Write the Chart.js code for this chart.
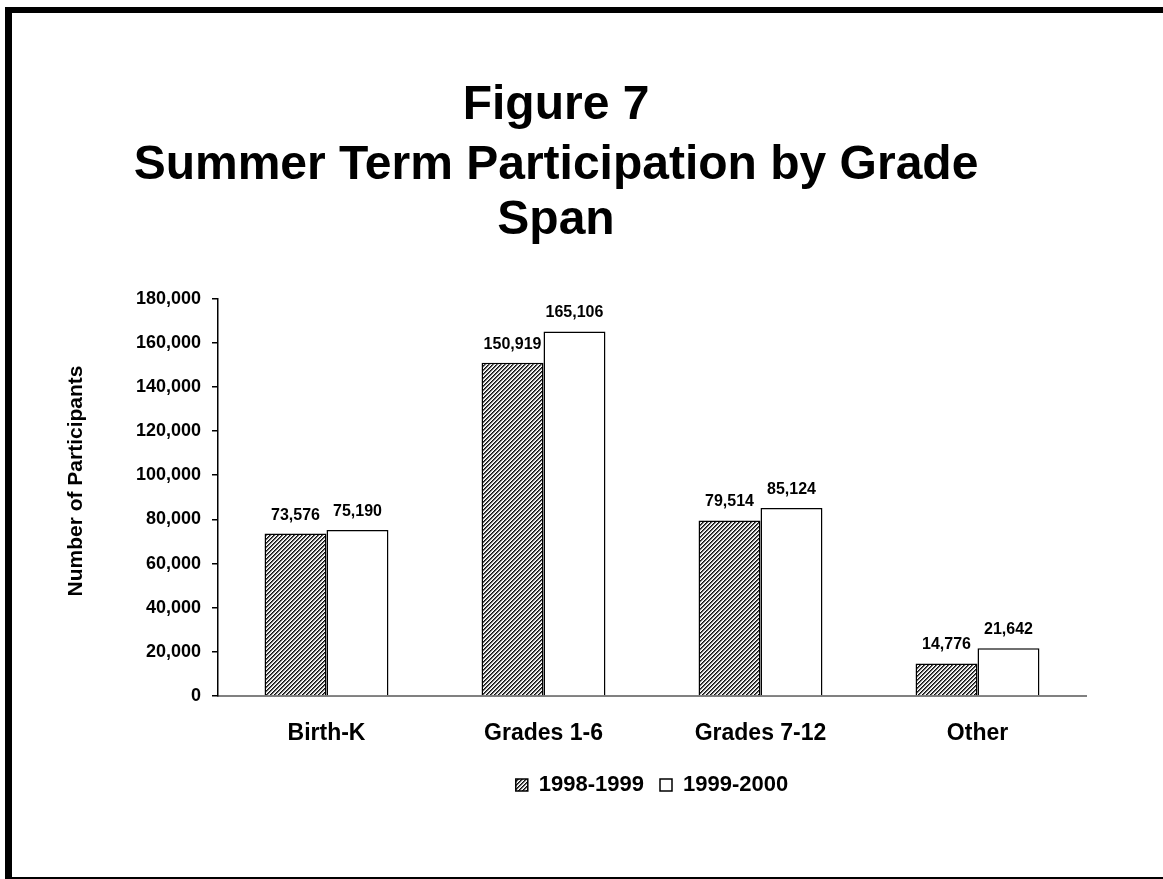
<!DOCTYPE html>
<html>
<head>
<meta charset="utf-8">
<script src="https://cdn.jsdelivr.net/npm/chart.js@4.4.0/dist/chart.umd.min.js"></script>
<style>
  html, body { margin: 0; padding: 0; background: #fff; }
  #wrap { width: 1163px; height: 879px; position: relative; }
</style>
</head>
<body>
<div id="wrap"><canvas id="c" width="1163" height="879"></canvas></div>
<script>
const categories = ["Birth-K", "Grades 1-6", "Grades 7-12", "Other"];
const seriesNames = ["1998-1999", "1999-2000"];
const values1998 = [73576, 150919, 79514, 14776];
const values1999 = [75190, 165106, 85124, 21642];
const yTicks = [0, 20000, 40000, 60000, 80000, 100000, 120000, 140000, 160000, 180000];
const titleLine1 = "Figure 7";
const titleLines2 = ["Summer Term Participation by Grade", "Span"];
const yTitle = "Number of Participants";

const FONT = "'Liberation Sans', Arial, Helvetica, sans-serif";
const canvas = document.getElementById('c');
const ctx0 = canvas.getContext('2d');

// hatch pattern
const pc = document.createElement('canvas');
pc.width = 4; pc.height = 4;
const pctx = pc.getContext('2d');
const shades = ['#101010', '#5a5a5a', '#d8d8d8', '#ffffff'];
for (let y = 0; y < 4; y++) for (let x = 0; x < 4; x++) {
  pctx.fillStyle = shades[(x + y) % 4];
  pctx.fillRect(x, y, 1, 1);
}
const hatch = ctx0.createPattern(pc, 'repeat');

const framePlugin = {
  id: 'frame',
  afterDraw(chart) {
    const c = chart.ctx;
    c.save();
    c.fillStyle = '#000';
    c.fillRect(5, 7, 7, 875);
    c.fillRect(5, 7, 1165, 6);
    c.fillRect(5, 877, 1165, 6);
    c.restore();
  }
};

const labelPlugin = {
  id: 'valueLabels',
  afterDatasetsDraw(chart) {
    const c = chart.ctx;
    c.save();
    c.font = "bold 16px " + FONT;
    c.fillStyle = '#000';
    c.textAlign = 'center';
    c.textBaseline = 'alphabetic';
    chart.data.datasets.forEach((ds, i) => {
      const meta = chart.getDatasetMeta(i);
      meta.data.forEach((bar, j) => {
        c.fillText(ds.data[j].toLocaleString('en-US'), bar.x, bar.y - 14);
      });
    });
    c.restore();
  }
};

const yTitlePlugin = {
  id: 'yTitle',
  afterDraw(chart) {
    const c = chart.ctx;
    c.save();
    c.translate(76, 481);
    c.rotate(-Math.PI / 2);
    c.font = "bold 21px " + FONT;
    c.fillStyle = '#000';
    c.textAlign = 'center';
    c.textBaseline = 'middle';
    c.fillText(yTitle, 0, 0);
    c.restore();
  }
};

Chart.defaults.color = '#000';
Chart.defaults.font.family = FONT;

new Chart(canvas, {
  type: 'bar',
  data: {
    labels: categories,
    datasets: [
      { label: seriesNames[0], data: values1998, backgroundColor: hatch, borderColor: '#000', borderWidth: 1.5 },
      { label: seriesNames[1], data: values1999, backgroundColor: '#ffffff', borderColor: '#000', borderWidth: 1.5 }
    ]
  },
  options: {
    responsive: false,
    animation: false,
    layout: { padding: { left: 26, right: 77, top: 0, bottom: 73 } },
    datasets: { bar: { barPercentage: 1.0, categoryPercentage: 0.571 } },
    plugins: {
      title: {
        display: true,
        text: titleLine1,
        font: { size: 48, weight: 'bold', lineHeight: 1.15 },
        padding: { top: 78, bottom: 0 }
      },
      subtitle: {
        display: true,
        text: titleLines2,
        color: '#000',
        font: { size: 48, weight: 'bold', lineHeight: 1.15 },
        padding: { top: 5, bottom: 50 }
      },
      legend: {
        position: 'bottom',
        fullSize: false,
        labels: {
          boxWidth: 12, boxHeight: 12,
          font: { size: 22, weight: 'bold' },
          padding: 16
        }
      },
      tooltip: { enabled: false }
    },
    scales: {
      x: {
        grid: { display: false },
        border: { display: true, color: '#808080', width: 2 },
        ticks: { font: { size: 23, weight: 'bold' }, padding: 16 },
        afterFit(scale) { scale.height = 62; }
      },
      y: {
        min: 0, max: 180000,
        afterBuildTicks(scale) { scale.ticks = yTicks.map(v => ({ value: v })); },
        grid: { drawOnChartArea: false, drawTicks: true, tickLength: 6, color: '#000', lineWidth: 1.5 },
        border: { display: true, color: '#000', width: 1.5 },
        ticks: {
          font: { size: 18, weight: 'bold' },
          padding: 11,
          callback: (v) => Number(v).toLocaleString('en-US')
        },
        afterFit(scale) { scale.width = 192; }
      }
    }
  },
  plugins: [framePlugin, labelPlugin, yTitlePlugin]
});
</script>
</body>
</html>
